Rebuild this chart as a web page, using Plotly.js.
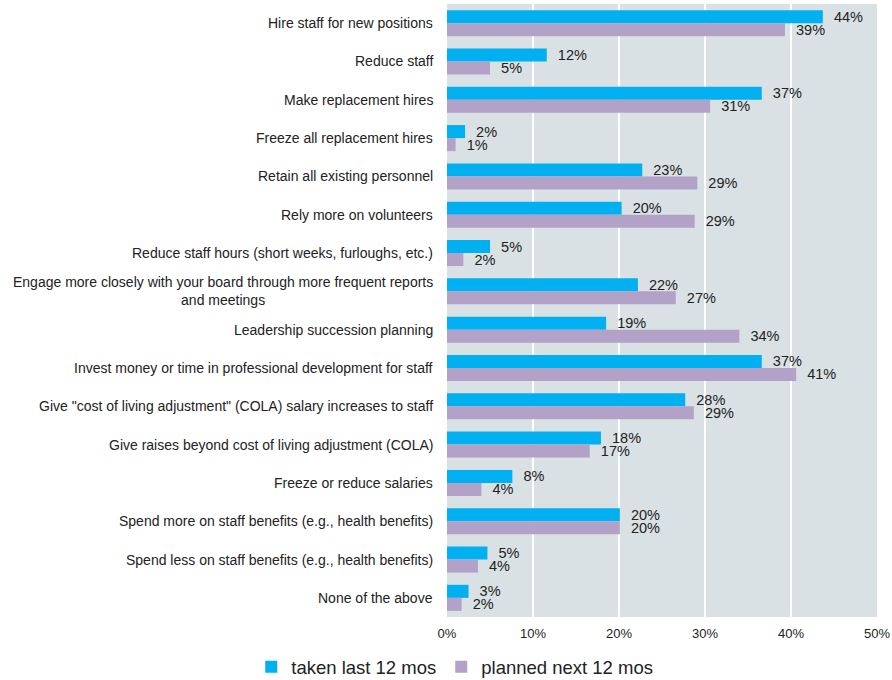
<!DOCTYPE html>
<html><head><meta charset="utf-8">
<script src="https://cdn.plot.ly/plotly-3.0.1.min.js"></script>
<style>html,body{margin:0;padding:0;background:#fff}#chart{width:892px;height:680px}</style>
</head><body><div id="chart"></div>
<script>
const categories = [
  "Hire staff for new positions",
  "Reduce staff",
  "Make replacement hires",
  "Freeze all replacement hires",
  "Retain all existing personnel",
  "Rely more on volunteers",
  "Reduce staff hours (short weeks, furloughs, etc.)",
  "Engage more closely with your board through more frequent reports<br>and meetings",
  "Leadership succession planning",
  "Invest money or time in professional development for staff",
  "Give \"cost of living adjustment\" (COLA) salary increases to staff",
  "Give raises beyond cost of living adjustment (COLA)",
  "Freeze or reduce salaries",
  "Spend more on staff benefits (e.g., health benefits)",
  "Spend less on staff benefits (e.g., health benefits)",
  "None of the above"
];
const takenLast = [43.7, 11.6, 36.6, 2.1, 22.7, 20.3, 5.0, 22.2, 18.5, 36.6, 27.7, 17.9, 7.6, 20.1, 4.7, 2.5];
const plannedNext = [39.3, 5.0, 30.6, 1.0, 29.1, 28.8, 1.9, 26.6, 34.0, 40.6, 28.7, 16.6, 4.0, 20.1, 3.6, 1.7];
const seriesNames = ["taken last 12 mos", "planned next 12 mos"];
const xTicks = [0, 10, 20, 30, 40, 50];

const fmt = v => "\u00a0\u00a0" + Math.round(v) + "%";
const font = "Liberation Sans, Arial, sans-serif";

const traces = [
  {type:"bar", orientation:"h", name:seriesNames[0], y:categories, x:takenLast,
   marker:{color:"#00b0f0"}, text:takenLast.map(fmt), textposition:"outside",
   constraintext:"none", textfont:{size:14.5, color:"#222", family:font},
   cliponaxis:false, hoverinfo:"none"},
  {type:"bar", orientation:"h", name:seriesNames[1], y:categories, x:plannedNext,
   marker:{color:"#b3a2c7"}, text:plannedNext.map(fmt), textposition:"outside",
   constraintext:"none", textfont:{size:14.5, color:"#222", family:font},
   cliponaxis:false, hoverinfo:"none"}
];

const annotations = categories.map(c => ({
  xref:"paper", yref:"y", x:0, y:c, xanchor:"right", yanchor:"middle",
  xshift:-12, text:c, showarrow:false, align:"center",
  font:{size:14, color:"#222", family:font}
}));

const layout = {
  width:892, height:680,
  margin:{l:447, r:15, t:4, b:63, autoexpand:false},
  paper_bgcolor:"#ffffff", plot_bgcolor:"#d9e1e4",
  barmode:"group", bargap:0.32, bargroupgap:0,
  font:{family:font, color:"#222"},
  xaxis:{range:[0,50], tickvals:xTicks, ticktext:xTicks.map(v=>v+"%"),
    showgrid:true, gridcolor:"#ffffff", gridwidth:2, zeroline:false,
    showline:false, ticks:"", ticklabelstandoff:7,
    tickfont:{size:13, color:"#222"}, fixedrange:true},
  yaxis:{type:"category", autorange:"reversed", showticklabels:false,
    showgrid:false, zeroline:false, showline:false, ticks:"", fixedrange:true},
  showlegend:true,
  legend:{orientation:"h", xanchor:"center", x:0.018, yanchor:"middle", y:-0.082,
    font:{size:18.5, color:"#222"}, itemwidth:30, traceorder:"normal"},
  annotations:annotations
};

Plotly.newPlot("chart", traces, layout, {displayModeBar:false, staticPlot:true});
</script></body></html>
